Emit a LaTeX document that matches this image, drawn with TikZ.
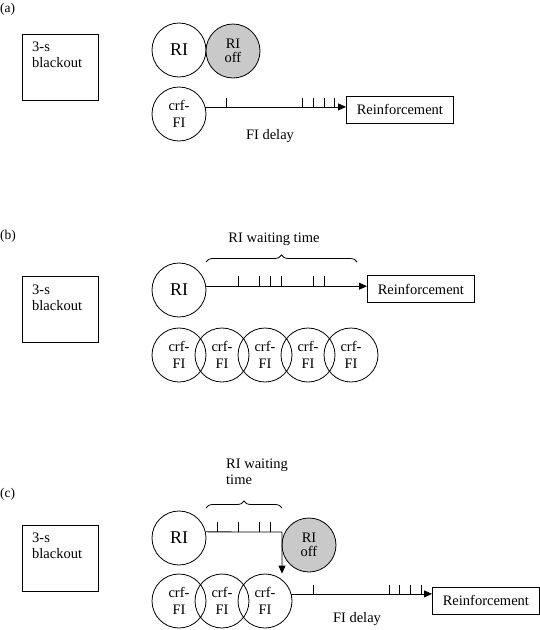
\documentclass[tikz,border=0pt]{standalone}
\usepackage{fontspec}
\setmainfont{Liberation Serif}
\usetikzlibrary{arrows.meta,decorations.pathreplacing,calc}
\begin{document}
\begin{tikzpicture}[x=1pt,y=-1pt,
  every node/.style={font=\fontsize{14.5}{16}\selectfont},
  circ/.style={draw,circle,minimum size=54pt,inner sep=0pt,align=center,line width=0.8pt},
  bigtxt/.style={font=\fontsize{18}{20}\selectfont},
  offc/.style={circ,fill=gray!42,font=\fontsize{14.5}{14.5}\selectfont},
  crf/.style={circ,font=\fontsize{14.5}{17}\selectfont},
  blk/.style={draw,line width=0.8pt,minimum width=76pt,minimum height=66pt,inner sep=0pt},
  rbox/.style={draw,line width=0.8pt,minimum width=107pt,minimum height=27pt,inner sep=0pt},
  lbl/.style={anchor=west,inner sep=0pt,font=\fontsize{13.5}{15}\selectfont},
  conn/.style={line width=0.8pt},
  arr/.style={line width=0.8pt,-{Triangle[length=8pt,width=7pt]}},
  tick/.style={line width=0.8pt},
  brc/.style={line width=0.8pt,decorate,decoration={brace,amplitude=7pt}}
]
\useasboundingbox (0,0) rectangle (540,630);

% ---------------- (a) ----------------
\node[lbl] (la) at (0,9) {(a)};
\node[blk] (bla) at (60,67) {};
\node[anchor=north west,inner sep=0pt,align=left] (blta) at (32,42) {3-s\\blackout};
\node[circ,bigtxt] (RIa) at (179,50) {RI};
\node[offc] (offa) at (233,51) {RI\\off};
\node[crf] (crfa) at (179,114) {crf-\\FI};
\node[rbox,anchor=west] (reina) at (346,109.5) {Reinforcement};
\draw[arr] (crfa.15) -- (crfa.15 -| reina.west);
\foreach \x in {226,302,313,324,334} \draw[tick] (\x,107) -- (\x,98);
\node (fida) at (270,136) {FI delay};

% ---------------- (b) ----------------
\node[lbl] (lb) at (0,236) {(b)};
\node[blk] (blb) at (60,309.5) {};
\node[anchor=north west,inner sep=0pt,align=left] (bltb) at (32,285) {3-s\\blackout};
\node[circ,bigtxt] (RIb) at (179,290) {RI};
\node[rbox,anchor=west] (reinb) at (367,289) {Reinforcement};
\draw[arr] (RIb.8.5) -- (RIb.8.5 -| reinb.west);
\foreach \x in {238,259,270,281,313,324} \draw[tick] (\x,286) -- (\x,276);
\coordinate (bl) at (206,262);
\coordinate (br) at (357,262);
\draw[brc] (bl) -- (br);
\node (wtb) at (274,239) {RI waiting time};
\foreach \i/\x in {1/179,2/222,3/265,4/308,5/351}
  \node[crf] (crfb\i) at (\x,355) {crf-\\FI};

% ---------------- (c) ----------------
\node[lbl] (lc) at (0,494) {(c)};
\node[blk] (blc) at (60,558) {};
\node[anchor=north west,inner sep=0pt,align=left] (bltc) at (32,533) {3-s\\blackout};
\node[anchor=north west,inner sep=0pt,align=left] (wtc) at (226,459) {RI waiting\\time};
\coordinate (cl) at (206,508);
\coordinate (cr) at (282,508);
\draw[brc] (cl) -- (cr);
\node[circ,bigtxt] (RIc) at (179,538) {RI};
\node[offc] (offc) at (309,545) {RI\\off};
\foreach \i/\x in {1/179,2/222,3/265}
  \node[crf] (crfc\i) at (\x,601) {crf-\\FI};
\coordinate (turn) at (282,532);
\draw[arr] (RIc.13) -- (turn) -- (turn |- crfc3.north);
\foreach \x in {217,238,259,270} \draw[tick] (\x,532) -- (\x,522);
\node[rbox,anchor=west] (reinc) at (432,600.5) {Reinforcement};
\draw[arr] (crfc3.15) -- (crfc3.15 -| reinc.west);
\foreach \x in {313,389,399,410,421} \draw[tick] (\x,594) -- (\x,585);
\node (fidc) at (357,619) {FI delay};
\end{tikzpicture}
\end{document}
